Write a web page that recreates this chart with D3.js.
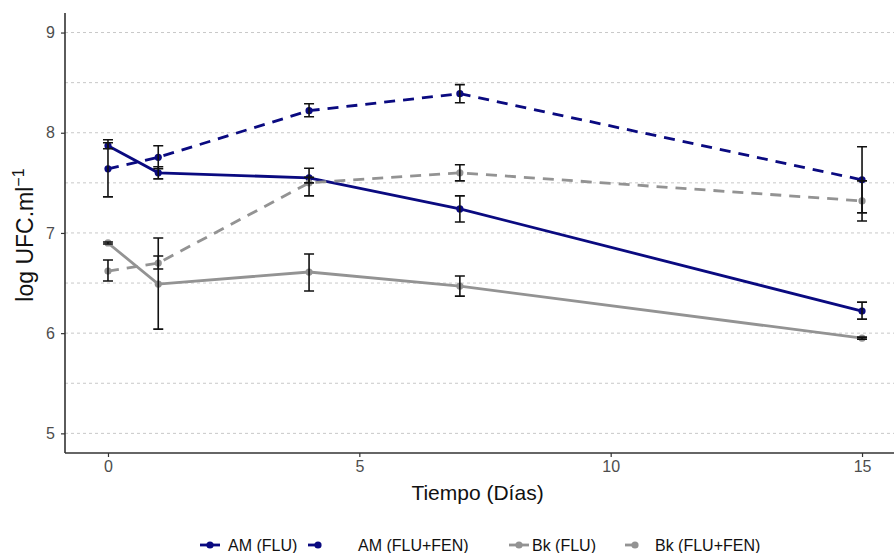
<!DOCTYPE html>
<html>
<head>
<meta charset="utf-8">
<script src="https://cdn.jsdelivr.net/npm/d3@7"></script>
<style>
  html, body { margin: 0; padding: 0; background: #fff; }
  svg { display: block; font-family: "Liberation Sans", Arial, sans-serif; }
</style>
</head>
<body>
<div id="chart"></div>
<script>
// Días de muestreo
const days = [0, 1, 4, 7, 15];

// Series (media y barras de error)
const seriesNames = ["AM (FLU)", "AM (FLU+FEN)", "Bk (FLU)", "Bk (FLU+FEN)"];

const amFlu    = [7.87, 7.60, 7.55, 7.24, 6.22];
const amFluLo  = [7.84, 7.54, 7.50, 7.11, 6.14];
const amFluHi  = [7.90, 7.66, 7.645, 7.37, 6.31];

const amFen    = [7.64, 7.755, 8.22, 8.39, 7.53];
const amFenLo  = [7.36, 7.64, 8.16, 8.30, 7.20];
const amFenHi  = [7.93, 7.87, 8.29, 8.48, 7.86];

const bkFlu    = [6.90, 6.49, 6.61, 6.47, 5.95];
const bkFluLo  = [6.89, 6.04, 6.42, 6.37, 5.94];
const bkFluHi  = [6.91, 6.95, 6.79, 6.57, 5.96];

const bkFen    = [6.62, 6.70, 7.50, 7.60, 7.32];
const bkFenLo  = [6.52, 6.64, 7.37, 7.52, 7.12];
const bkFenHi  = [6.73, 6.77, 7.555, 7.68, 7.52];

const xTicks = [0, 5, 10, 15];
const yTicks = [5, 6, 7, 8, 9];
const yGrid  = [5, 5.5, 6, 6.5, 7, 7.5, 8, 8.5, 9];

// estilos por serie
const NAVY = "#0a0a80";
const GREY = "#939393";
const styles = [
  { color: NAVY, dash: null },
  { color: NAVY, dash: "11,8" },
  { color: GREY, dash: null },
  { color: GREY, dash: "11,8" },
];

const series = [
  { name: seriesNames[0], mean: amFlu, lo: amFluLo, hi: amFluHi },
  { name: seriesNames[1], mean: amFen, lo: amFenLo, hi: amFenHi },
  { name: seriesNames[2], mean: bkFlu, lo: bkFluLo, hi: bkFluHi },
  { name: seriesNames[3], mean: bkFen, lo: bkFenLo, hi: bkFenHi },
].map((s, i) => Object.assign(s, styles[i], {
  pts: days.map((d, j) => ({ day: d, v: s.mean[j], lo: s.lo[j], hi: s.hi[j] }))
}));

const W = 894, H = 553;
const panel = { left: 65, right: 894, top: 13, bottom: 453 };

const svg = d3.select("#chart").append("svg")
  .attr("width", W).attr("height", H);

const x = d3.scaleLinear().domain([-0.855, 15.636]).range([panel.left, panel.right]);
const y = d3.scaleLinear().domain([4.804, 9.195]).range([panel.bottom, panel.top]);

// Grid
svg.append("g").selectAll("line").data(yGrid).join("line")
  .attr("x1", panel.left).attr("x2", panel.right)
  .attr("y1", d => y(d)).attr("y2", d => y(d))
  .attr("stroke", "#c8c8c8").attr("stroke-width", 1)
  .attr("stroke-dasharray", "3,3");

// Lines
const line = d3.line().x(d => x(d.day)).y(d => y(d.v));
const gSeries = svg.append("g");
series.forEach(s => {
  gSeries.append("path")
    .attr("d", line(s.pts))
    .attr("fill", "none")
    .attr("stroke", s.color)
    .attr("stroke-width", 2.8)
    .attr("stroke-dasharray", s.dash);
});

// Points
series.forEach(s => {
  gSeries.append("g").selectAll("circle").data(s.pts).join("circle")
    .attr("cx", d => x(d.day)).attr("cy", d => y(d.v))
    .attr("r", 3.6).attr("fill", s.color);
});

// Error bars
const capW = 5;
series.forEach(s => {
  const g = gSeries.append("g").attr("stroke", "#111").attr("stroke-width", 1.6).attr("fill", "none");
  s.pts.forEach(d => {
    const cx = x(d.day);
    g.append("path").attr("d",
      `M${cx - capW},${y(d.hi)}H${cx + capW}M${cx},${y(d.hi)}V${y(d.lo)}M${cx - capW},${y(d.lo)}H${cx + capW}`);
  });
});

// Axes
const axisColor = "#333";
const xAxis = svg.append("g").attr("transform", `translate(0,${panel.bottom})`)
  .call(d3.axisBottom(x).tickValues(xTicks).tickFormat(d3.format("d")).tickSize(4).tickPadding(4));
const yAxis = svg.append("g").attr("transform", `translate(${panel.left},0)`)
  .call(d3.axisLeft(y).tickValues(yTicks).tickFormat(d3.format("d")).tickSize(4).tickPadding(6));

[xAxis, yAxis].forEach(a => {
  a.select(".domain").attr("stroke", axisColor).attr("stroke-width", 1.6);
  a.selectAll(".tick line").attr("stroke", axisColor).attr("stroke-width", 1.2);
  a.selectAll(".tick text").attr("fill", "#4d4d4d").attr("font-size", 16)
    .attr("font-family", "Liberation Sans, Arial, sans-serif");
});
// keep the axis lines flush with the panel
xAxis.select(".domain").attr("d", `M${panel.left},0H${panel.right}`);
yAxis.select(".domain").attr("d", `M0,${panel.top}V${panel.bottom}`);

// Axis titles
svg.append("text")
  .attr("x", (panel.left + panel.right) / 2 - 2).attr("y", 500)
  .attr("text-anchor", "middle").attr("font-size", 21).attr("fill", "#111")
  .text("Tiempo (Días)");

const yt = svg.append("text")
  .attr("transform", `translate(33,${(panel.top + panel.bottom) / 2 + 2}) rotate(-90)`)
  .attr("text-anchor", "middle").attr("font-size", 23).attr("fill", "#111");
yt.append("tspan").text("log UFC.ml");
yt.append("tspan").attr("dy", -9).attr("font-size", 16).text("−1");

// Legend
const legendY = 545;
const legendX = [200, 302, 509, 619];   // key left edges
const labelX  = [228, 358, 532, 655];
const legend = svg.append("g");
series.forEach((s, i) => {
  const kx = legendX[i];
  const x1 = s.dash ? kx + 6 : kx;
  const x2 = s.dash ? kx + 16 : kx + 20;
  legend.append("line")
    .attr("x1", x1).attr("x2", x2)
    .attr("y1", legendY).attr("y2", legendY)
    .attr("stroke", s.color).attr("stroke-width", 2.8);
  legend.append("circle").attr("cx", s.dash ? x2 : kx + 10).attr("cy", legendY)
    .attr("r", 3.6).attr("fill", s.color);
  legend.append("text")
    .attr("x", labelX[i]).attr("y", legendY).attr("dy", "0.35em")
    .attr("font-size", 16).attr("fill", "#111")
    .text(s.name);
});
</script>
</body>
</html>
